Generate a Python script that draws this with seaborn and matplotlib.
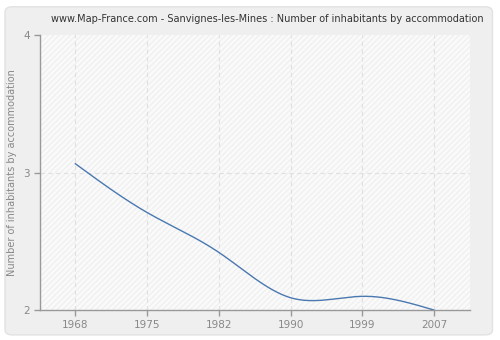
import numpy as np
import pandas as pd
import matplotlib
matplotlib.use("Agg")
import matplotlib.pyplot as plt
import seaborn as sns
from matplotlib.patches import FancyBboxPatch

years = ["1968", "1975", "1982", "1990", "1999", "2007"]
values = [3.065, 2.71, 2.42, 2.09, 2.10, 2.0]
yticks = [2, 3, 4]

sns.set_theme(style="white")
plt.rcParams['font.family'] = ['DejaVu Sans']

fig = plt.figure(figsize=(5, 3.4), dpi=100)
fig.patch.set_facecolor("#ffffff")
fig.patches.append(FancyBboxPatch((0.01, 0.015), 0.975, 0.965, boxstyle="round,pad=0,rounding_size=0.015",
                                  transform=fig.transFigure, facecolor="#efefef", edgecolor="#e2e2e2",
                                  linewidth=1, zorder=-10))
ax = fig.add_axes([0.08, 0.088, 0.86, 0.809])
ax.set_facecolor("#fafafa")
ax.add_patch(plt.Rectangle((0, 0), 1, 1, transform=ax.transAxes, facecolor="none",
                           edgecolor="#f0f0f0", hatch="//////", linewidth=0, zorder=0))

# smooth rendering of the line through the data points (natural cubic spline)
x = np.arange(len(values), dtype=float)
y = np.array(values, dtype=float)
n = len(x)
h = np.diff(x)
A = np.zeros((n, n)); r = np.zeros(n)
A[0, 0] = A[-1, -1] = 1
for i in range(1, n - 1):
    A[i, i - 1] = h[i - 1]; A[i, i] = 2 * (h[i - 1] + h[i]); A[i, i + 1] = h[i]
    r[i] = 3 * ((y[i + 1] - y[i]) / h[i] - (y[i] - y[i - 1]) / h[i - 1])
c = np.linalg.solve(A, r)
xs, ys = [], []
for i in range(n - 1):
    b = (y[i + 1] - y[i]) / h[i] - h[i] * (2 * c[i] + c[i + 1]) / 3
    d = (c[i + 1] - c[i]) / (3 * h[i])
    t = np.linspace(0, h[i], 40, endpoint=(i == n - 2))
    xs.extend(x[i] + t); ys.extend(y[i] + b * t + c[i] * t**2 + d * t**3)
df = pd.DataFrame({"x": xs, "y": ys})
sns.lineplot(data=df, x="x", y="y", ax=ax, color="#4a78b0", linewidth=1, zorder=3)

ax.set_xlim(-0.49, 5.5)
ax.set_ylim(2, 4)
ax.set_xticks(range(len(years)))
ax.set_xticklabels(years)
ax.set_yticks(yticks)
ax.set_yticklabels([str(v) for v in yticks])
for xi in range(len(years)):
    ax.axvline(xi, color="#e0e0e0", linestyle=(0, (4, 3)), linewidth=0.8, zorder=1)
ax.axhline(3, color="#e0e0e0", linestyle=(0, (4, 3)), linewidth=0.8, zorder=1)
for s in ["top", "right"]:
    ax.spines[s].set_visible(False)
for s in ["left", "bottom"]:
    ax.spines[s].set_color("#999999")
    ax.spines[s].set_linewidth(1)
ax.tick_params(axis="both", colors="#999999", labelcolor="#888888", labelsize=7.5,
               length=4, width=1, direction="out", left=True, bottom=True)
ax.set_xlabel("")
ax.set_ylabel("Number of inhabitants by accommodation", color="#888888", fontsize=7, labelpad=4)
fig.text(0.534, 0.945, "www.Map-France.com - Sanvignes-les-Mines : Number of inhabitants by accommodation",
         ha="center", va="center", fontsize=7, color="#333333")
fig.savefig("out.png", dpi=100, facecolor=fig.get_facecolor())
